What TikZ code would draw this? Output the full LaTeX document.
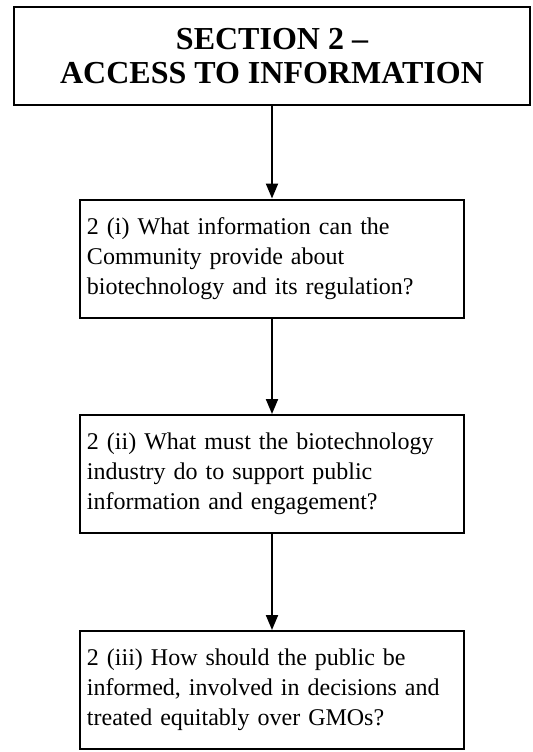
\documentclass[tikz,border=0pt]{standalone}
\usepackage{fontspec}
\setmainfont{Liberation Serif}
\usetikzlibrary{arrows.meta}
\begin{document}
\begin{tikzpicture}[x=0.5pt,y=-0.5pt,
  titlebox/.style={draw, line width=1pt, minimum width=258pt, minimum height=49pt,
    align=center, inner sep=0pt, font=\fontsize{16}{17}\selectfont\bfseries},
  qbox/.style={draw, line width=1pt, minimum width=192pt, minimum height=59pt,
    text width=185pt, inner sep=3.5pt, align=left, font=\fontsize{12}{15}\selectfont},
  flow/.style={line width=1pt, -{Triangle[width=6pt,length=7.5pt]}}]
\useasboundingbox (0,0) rectangle (532,752);

% section heading
\node[titlebox] (title) at (272,56) {SECTION 2 --\\ACCESS TO INFORMATION};

% question boxes
\node[qbox] (q1) at (272,258.5) {2 (i) What information can the\\Community provide about\\biotechnology and its regulation?};
\node[qbox] (q2) at (272,474) {2 (ii) What must the biotechnology\\industry do to support public\\information and engagement?};
\node[qbox] (q3) at (272,690) {2 (iii) How should the public be\\informed, involved in decisions and\\treated equitably over GMOs?};

% connectors
\draw[flow] (title) -- (q1);
\draw[flow] (q1) -- (q2);
\draw[flow] (q2) -- (q3);
\end{tikzpicture}
\end{document}
